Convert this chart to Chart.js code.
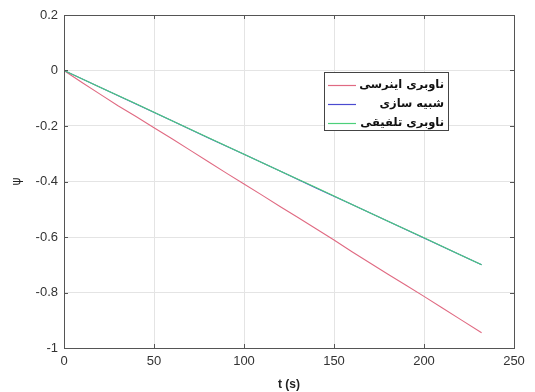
<!DOCTYPE html>
<html><head><meta charset="utf-8">
<script src="https://cdn.jsdelivr.net/npm/chart.js@4/dist/chart.umd.min.js"></script>
<style>html,body{margin:0;padding:0;background:#fff}#wrap{width:535px;height:392px}</style>
</head><body><div id="wrap"><canvas id="c" width="535" height="392"></canvas></div>
<script>
const seriesNames = ['ناوبری اینرسی', 'شبیه سازی', 'ناوبری تلفیقی'];
const inertialT = [0,10,20,30,40,50,60,70,80,90,100,110,120,130,140,150,160,170,180,190,200,210,220,232];
const inertialV = [0,-0.043,-0.085,-0.127,-0.166,-0.206,-0.246,-0.287,-0.328,-0.369,-0.409,-0.449,-0.49,-0.53,-0.57,-0.611,-0.653,-0.694,-0.734,-0.774,-0.814,-0.855,-0.896,-0.945];
const simT = [0,20,40,60,80,100,120,140,160,180,200,220,232];
const simV = [0,-0.06,-0.121,-0.181,-0.242,-0.302,-0.362,-0.423,-0.483,-0.543,-0.604,-0.664,-0.70];
const fusedT = [0,20,40,60,80,100,120,140,160,180,200,220,232];
const fusedV = [0,-0.06,-0.12,-0.181,-0.241,-0.302,-0.362,-0.422,-0.483,-0.543,-0.603,-0.664,-0.70];
const xTicks = [0,50,100,150,200,250];
const yTicks = [0.2,0,-0.2,-0.4,-0.6,-0.8,-1];
const colors = ['#e06a82','#4a4ad0','#4cd07a'];

const pts = (t,v)=>t.map((x,i)=>({x:x,y:v[i]}));

const framePlugin = {
  id:'frame',
  afterDraw(chart){
    const {ctx, chartArea:a, scales:{x,y}} = chart;
    ctx.save();
    ctx.strokeStyle='#555'; ctx.lineWidth=1;
    ctx.strokeRect(a.left+0.5,a.top+0.5,a.right-a.left,a.bottom-a.top);
    ctx.beginPath();
    xTicks.forEach(v=>{const px=Math.round(x.getPixelForValue(v))+0.5;
      ctx.moveTo(px,a.bottom);ctx.lineTo(px,a.bottom-4);ctx.moveTo(px,a.top);ctx.lineTo(px,a.top+4);});
    yTicks.forEach(v=>{const py=Math.round(y.getPixelForValue(v))+0.5;
      ctx.moveTo(a.left,py);ctx.lineTo(a.left+4,py);ctx.moveTo(a.right,py);ctx.lineTo(a.right-4,py);});
    ctx.stroke();
    // legend box
    const bx=a.left+260, by=a.top+57, bw=124, bh=58;
    ctx.fillStyle='#fff'; ctx.fillRect(bx,by,bw,bh);
    ctx.strokeStyle='#444'; ctx.strokeRect(bx+0.5,by+0.5,bw,bh);
    ctx.font='bold 11.5px "DejaVu Sans"'; ctx.textAlign='right'; ctx.textBaseline='middle';
    ctx.direction='rtl';
    seriesNames.forEach((n,i)=>{
      const ry=by+13+i*19;
      ctx.strokeStyle=colors[i]; ctx.lineWidth=1.2;
      ctx.beginPath(); ctx.moveTo(bx+4,ry+0.5); ctx.lineTo(bx+32,ry+0.5); ctx.stroke();
      ctx.fillStyle='#111'; ctx.fillText(n,bx+bw-4,ry);
    });
    ctx.restore();
  }
};

new Chart(document.getElementById('c'),{
  type:'line',
  data:{datasets:[
    {label:seriesNames[0],data:pts(inertialT,inertialV),borderColor:colors[0],borderWidth:1.1,pointRadius:0,tension:0,order:2},
    {label:seriesNames[1],data:pts(simT,simV),borderColor:colors[1],borderWidth:1.1,pointRadius:0,tension:0,order:1},
    {label:seriesNames[2],data:pts(fusedT,fusedV),borderColor:colors[2],borderWidth:1.1,pointRadius:0,tension:0,order:0}
  ]},
  options:{
    responsive:false,animation:false,
    layout:{padding:{left:0,right:21,top:15,bottom:0}},
    plugins:{legend:{display:false},tooltip:{enabled:false}},
    scales:{
      x:{type:'linear',min:0,max:250,
        afterBuildTicks:s=>{s.ticks=xTicks.map(v=>({value:v}));},
        afterFit:s=>{s.height=44;},
        grid:{color:'#e4e4e4',drawTicks:false},border:{display:false},
        ticks:{padding:6,color:'#333',font:{family:'"Liberation Sans"',size:13},maxRotation:0},
        title:{display:true,text:'t (s)',color:'#222',font:{family:'"Liberation Sans"',size:12,weight:'bold'},padding:{top:0,bottom:0}}},
      y:{type:'linear',min:-1,max:0.2,
        afterBuildTicks:s=>{s.ticks=yTicks.map(v=>({value:v}));},
        afterFit:s=>{s.width=64;},
        grid:{color:'#e4e4e4',drawTicks:false},border:{display:false},
        ticks:{padding:6,color:'#333',font:{family:'"Liberation Sans"',size:13},callback:v=>String(parseFloat(v.toFixed(1)))},
        title:{display:true,text:'ψ',color:'#222',font:{family:'"DejaVu Sans"',size:12},padding:{top:10,bottom:0}}}
    }
  },
  plugins:[framePlugin]
});
</script></body></html>
